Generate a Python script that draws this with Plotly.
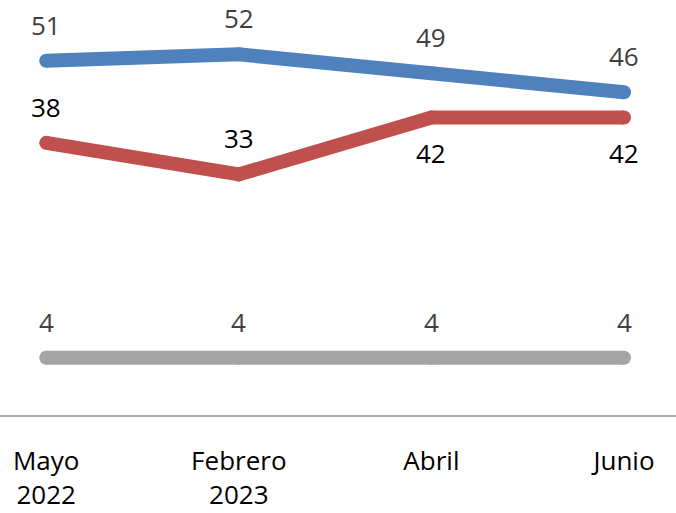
import plotly.graph_objects as go

categories = ["Mayo<br>2022", "Febrero<br>2023", "Abril", "Junio"]
blue_values = [51, 52, 49, 46]
red_values = [38, 33, 42, 42]
gray_values = [4, 4, 4, 4]

series = [
    dict(values=blue_values, color="#4F81BD", label_color="#404040", pos=["above"] * 4),
    dict(values=red_values, color="#C0504D", label_color="#000000", pos=["above", "above", "below", "below"]),
    dict(values=gray_values, color="#A5A5A5", label_color="#404040", pos=["above"] * 4),
]

FONT = "Open Sans, Noto Sans, sans-serif"
fig = go.Figure()
annotations = []
for s in series:
    fig.add_trace(go.Scatter(
        x=categories, y=s["values"], mode="lines+markers",
        line=dict(color=s["color"], width=14),
        marker=dict(color=s["color"], size=14, line=dict(width=0)),
        hoverinfo="skip", showlegend=False, cliponaxis=False,
    ))
    for xc, v, p in zip(categories, s["values"], s["pos"]):
        annotations.append(dict(
            x=xc, y=v, text=str(v), showarrow=False,
            xanchor="center", yanchor="middle",
            yshift=36 if p == "above" else -35,
            font=dict(family=FONT, size=26, color=s["label_color"]),
        ))

fig.update_layout(
    width=676, height=513,
    margin=dict(l=0, r=0, t=0, b=98, autoexpand=False),
    paper_bgcolor="white", plot_bgcolor="white",
    annotations=annotations,
    xaxis=dict(
        type="category", range=[-0.24, 3.27], automargin=False,
        showgrid=False, zeroline=False,
        showline=True, linecolor="#ABABAB", linewidth=1.5,
        ticks="outside", ticklen=0, ticklabelstandoff=22,
        tickfont=dict(family=FONT, size=26, color="#000000"),
    ),
    yaxis=dict(
        range=[-5.06, 60.6], visible=False, automargin=False,
        showgrid=False, zeroline=False,
    ),
)

fig.write_html(
    "out.html",
    config={"displayModeBar": False},
    post_script="document.body.style.margin='0';document.body.style.overflow='hidden';",
)
